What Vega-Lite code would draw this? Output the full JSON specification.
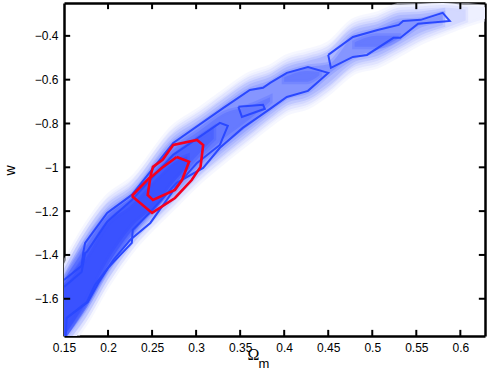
{
"$schema":"https://vega.github.io/schema/vega-lite/v6.json",
"width":421,"height":333,"autosize":"none",
"padding":{"left":64,"top":3,"right":6,"bottom":35},
"background":"white",
"config":{"view":{"stroke":null},"font":"Liberation Sans"},
"datasets":{
"density":[
{"level":"1","x":0.150,"hi":-1.441,"lo":-1.843},{"level":"1","x":0.174,"hi":-1.272,"lo":-1.715},{"level":"1","x":0.199,"hi":-1.135,"lo":-1.541},{"level":"1","x":0.227,"hi":-1.053,"lo":-1.382},{"level":"1","x":0.274,"hi":-0.816,"lo":-1.185},{"level":"1","x":0.305,"hi":-0.733,"lo":-1.062},{"level":"1","x":0.331,"hi":-0.656,"lo":-0.975},{"level":"1","x":0.361,"hi":-0.574,"lo":-0.879},{"level":"1","x":0.384,"hi":-0.542,"lo":-0.806},{"level":"1","x":0.403,"hi":-0.496,"lo":-0.752},{"level":"1","x":0.427,"hi":-0.469,"lo":-0.724},{"level":"1","x":0.450,"hi":-0.437,"lo":-0.662},{"level":"1","x":0.478,"hi":-0.332,"lo":-0.569},{"level":"1","x":0.506,"hi":-0.300,"lo":-0.537},{"level":"1","x":0.532,"hi":-0.259,"lo":-0.482},{"level":"1","x":0.555,"hi":-0.254,"lo":-0.430},{"level":"1","x":0.580,"hi":-0.250,"lo":-0.390},{"level":"1","x":0.606,"hi":-0.260,"lo":-0.350},{"level":"1","x":0.630,"hi":-0.270,"lo":-0.320},
{"level":"2","x":0.150,"hi":-1.464,"lo":-1.820},{"level":"2","x":0.174,"hi":-1.295,"lo":-1.692},{"level":"2","x":0.199,"hi":-1.158,"lo":-1.518},{"level":"2","x":0.227,"hi":-1.076,"lo":-1.359},{"level":"2","x":0.274,"hi":-0.839,"lo":-1.162},{"level":"2","x":0.305,"hi":-0.756,"lo":-1.039},{"level":"2","x":0.331,"hi":-0.679,"lo":-0.952},{"level":"2","x":0.361,"hi":-0.597,"lo":-0.856},{"level":"2","x":0.384,"hi":-0.565,"lo":-0.783},{"level":"2","x":0.403,"hi":-0.519,"lo":-0.729},{"level":"2","x":0.427,"hi":-0.492,"lo":-0.701},{"level":"2","x":0.450,"hi":-0.460,"lo":-0.639},{"level":"2","x":0.478,"hi":-0.355,"lo":-0.546},{"level":"2","x":0.506,"hi":-0.323,"lo":-0.514},{"level":"2","x":0.532,"hi":-0.282,"lo":-0.459},{"level":"2","x":0.555,"hi":-0.277,"lo":-0.410},{"level":"2","x":0.580,"hi":-0.270,"lo":-0.370},{"level":"2","x":0.606,"hi":-0.280,"lo":-0.330},
{"level":"3","x":0.150,"hi":-1.487,"lo":-1.800},{"level":"3","x":0.174,"hi":-1.318,"lo":-1.669},{"level":"3","x":0.199,"hi":-1.181,"lo":-1.495},{"level":"3","x":0.227,"hi":-1.099,"lo":-1.336},{"level":"3","x":0.274,"hi":-0.862,"lo":-1.139},{"level":"3","x":0.305,"hi":-0.779,"lo":-1.016},{"level":"3","x":0.331,"hi":-0.702,"lo":-0.929},{"level":"3","x":0.361,"hi":-0.620,"lo":-0.833},{"level":"3","x":0.384,"hi":-0.588,"lo":-0.760},{"level":"3","x":0.403,"hi":-0.542,"lo":-0.706},{"level":"3","x":0.427,"hi":-0.515,"lo":-0.678},{"level":"3","x":0.450,"hi":-0.483,"lo":-0.616},{"level":"3","x":0.478,"hi":-0.378,"lo":-0.523},{"level":"3","x":0.506,"hi":-0.346,"lo":-0.491},{"level":"3","x":0.532,"hi":-0.305,"lo":-0.436},{"level":"3","x":0.555,"hi":-0.300,"lo":-0.385},{"level":"3","x":0.580,"hi":-0.285,"lo":-0.350},
{"level":"4","x":0.150,"hi":-1.514,"lo":-1.770},{"level":"4","x":0.174,"hi":-1.345,"lo":-1.642},{"level":"4","x":0.199,"hi":-1.208,"lo":-1.468},{"level":"4","x":0.227,"hi":-1.126,"lo":-1.309},{"level":"4","x":0.274,"hi":-0.889,"lo":-1.112},{"level":"4","x":0.305,"hi":-0.806,"lo":-0.989},{"level":"4","x":0.331,"hi":-0.729,"lo":-0.902},{"level":"4","x":0.361,"hi":-0.647,"lo":-0.806},{"level":"4","x":0.384,"hi":-0.615,"lo":-0.733},{"level":"4","x":0.403,"hi":-0.569,"lo":-0.679},{"level":"4","x":0.427,"hi":-0.542,"lo":-0.651},{"level":"4","x":0.450,"hi":-0.530,"lo":-0.575},{"level":"4","x":0.478,"hi":-0.405,"lo":-0.496},{"level":"4","x":0.506,"hi":-0.373,"lo":-0.464},{"level":"4","x":0.532,"hi":-0.332,"lo":-0.409},{"level":"4","x":0.555,"hi":-0.327,"lo":-0.350},{"level":"4","x":0.580,"hi":-0.300,"lo":-0.330},
{"level":"5","x":0.150,"hi":-1.520,"lo":-1.770},{"level":"5","x":0.174,"hi":-1.360,"lo":-1.630},{"level":"5","x":0.199,"hi":-1.220,"lo":-1.460},{"level":"5","x":0.227,"hi":-1.135,"lo":-1.300},{"level":"5","x":0.274,"hi":-0.920,"lo":-1.090},{"level":"5","x":0.305,"hi":-0.830,"lo":-0.960},{"level":"5","x":0.331,"hi":-0.755,"lo":-0.870},{"level":"5","x":0.361,"hi":-0.720,"lo":-0.780},{"level":"5","x":0.384,"hi":-0.680,"lo":-0.700},
{"level":"6","x":0.150,"hi":-1.530,"lo":-1.770},{"level":"6","x":0.174,"hi":-1.390,"lo":-1.630},{"level":"6","x":0.199,"hi":-1.240,"lo":-1.450},{"level":"6","x":0.227,"hi":-1.150,"lo":-1.290},{"level":"6","x":0.274,"hi":-0.950,"lo":-1.070},{"level":"6","x":0.305,"hi":-0.860,"lo":-0.930},{"level":"6","x":0.320,"hi":-0.820,"lo":-0.870},
{"level":"7","x":0.150,"hi":-1.550,"lo":-1.770},{"level":"7","x":0.174,"hi":-1.420,"lo":-1.620},{"level":"7","x":0.199,"hi":-1.260,"lo":-1.430},{"level":"7","x":0.227,"hi":-1.170,"lo":-1.270},{"level":"7","x":0.255,"hi":-1.050,"lo":-1.170},{"level":"7","x":0.274,"hi":-0.980,"lo":-1.070},{"level":"7","x":0.290,"hi":-0.950,"lo":-1.000},
{"level":"8","x":0.480,"hi":-0.430,"lo":-0.450},{"level":"8","x":0.505,"hi":-0.400,"lo":-0.450},{"level":"8","x":0.530,"hi":-0.400,"lo":-0.410},
{"level":"9","x":0.400,"hi":-0.590,"lo":-0.610},{"level":"9","x":0.425,"hi":-0.560,"lo":-0.610},{"level":"9","x":0.440,"hi":-0.565,"lo":-0.580}
],
"contours":[
{"c":"A","k":"blue","s":1,"x":0.150,"y":-1.514},{"c":"A","k":"blue","s":2,"x":0.170,"y":-1.450},{"c":"A","k":"blue","s":3,"x":0.172,"y":-1.386},{"c":"A","k":"blue","s":4,"x":0.174,"y":-1.345},{"c":"A","k":"blue","s":5,"x":0.199,"y":-1.208},{"c":"A","k":"blue","s":6,"x":0.227,"y":-1.126},{"c":"A","k":"blue","s":7,"x":0.274,"y":-0.889},{"c":"A","k":"blue","s":8,"x":0.331,"y":-0.729},{"c":"A","k":"blue","s":9,"x":0.361,"y":-0.647},{"c":"A","k":"blue","s":10,"x":0.376,"y":-0.637},{"c":"A","k":"blue","s":11,"x":0.384,"y":-0.615},{"c":"A","k":"blue","s":12,"x":0.403,"y":-0.569},{"c":"A","k":"blue","s":13,"x":0.427,"y":-0.542},{"c":"A","k":"blue","s":14,"x":0.450,"y":-0.569},{"c":"A","k":"blue","s":15,"x":0.427,"y":-0.651},{"c":"A","k":"blue","s":16,"x":0.403,"y":-0.679},{"c":"A","k":"blue","s":17,"x":0.384,"y":-0.733},{"c":"A","k":"blue","s":18,"x":0.353,"y":-0.820},{"c":"A","k":"blue","s":19,"x":0.327,"y":-0.911},{"c":"A","k":"blue","s":20,"x":0.308,"y":-1.003},{"c":"A","k":"blue","s":21,"x":0.278,"y":-1.071},{"c":"A","k":"blue","s":22,"x":0.248,"y":-1.204},{"c":"A","k":"blue","s":23,"x":0.228,"y":-1.286},{"c":"A","k":"blue","s":24,"x":0.227,"y":-1.345},{"c":"A","k":"blue","s":25,"x":0.200,"y":-1.459},{"c":"A","k":"blue","s":26,"x":0.189,"y":-1.528},{"c":"A","k":"blue","s":27,"x":0.177,"y":-1.615},{"c":"A","k":"blue","s":28,"x":0.153,"y":-1.688},{"c":"A","k":"blue","s":29,"x":0.152,"y":-1.770},
{"c":"D","k":"blue","s":1,"x":0.150,"y":-1.546},{"c":"D","k":"blue","s":2,"x":0.170,"y":-1.478},{"c":"D","k":"blue","s":3,"x":0.174,"y":-1.391},{"c":"D","k":"blue","s":4,"x":0.176,"y":-1.386},{"c":"D","k":"blue","s":5,"x":0.199,"y":-1.249},{"c":"D","k":"blue","s":6,"x":0.227,"y":-1.149},{"c":"D","k":"blue","s":7,"x":0.274,"y":-0.943},{"c":"D","k":"blue","s":8,"x":0.327,"y":-0.797},{"c":"D","k":"blue","s":9,"x":0.336,"y":-0.811},{"c":"D","k":"blue","s":10,"x":0.327,"y":-0.898},{"c":"D","k":"blue","s":11,"x":0.301,"y":-0.980},{"c":"D","k":"blue","s":12,"x":0.278,"y":-1.085},{"c":"D","k":"blue","s":13,"x":0.248,"y":-1.254},{"c":"D","k":"blue","s":14,"x":0.225,"y":-1.332},{"c":"D","k":"blue","s":15,"x":0.206,"y":-1.423},{"c":"D","k":"blue","s":16,"x":0.200,"y":-1.459},{"c":"D","k":"blue","s":17,"x":0.185,"y":-1.537},{"c":"D","k":"blue","s":18,"x":0.176,"y":-1.615},{"c":"D","k":"blue","s":19,"x":0.153,"y":-1.688},
{"c":"C","k":"blue","s":1,"x":0.348,"y":-0.724},{"c":"C","k":"blue","s":2,"x":0.376,"y":-0.715},{"c":"C","k":"blue","s":3,"x":0.378,"y":-0.733},{"c":"C","k":"blue","s":4,"x":0.352,"y":-0.770},{"c":"C","k":"blue","s":5,"x":0.348,"y":-0.724},
{"c":"B","k":"blue","s":1,"x":0.450,"y":-0.487},{"c":"B","k":"blue","s":2,"x":0.478,"y":-0.405},{"c":"B","k":"blue","s":3,"x":0.506,"y":-0.373},{"c":"B","k":"blue","s":4,"x":0.530,"y":-0.350},{"c":"B","k":"blue","s":5,"x":0.535,"y":-0.332},{"c":"B","k":"blue","s":6,"x":0.555,"y":-0.327},{"c":"B","k":"blue","s":7,"x":0.580,"y":-0.295},{"c":"B","k":"blue","s":8,"x":0.588,"y":-0.332},{"c":"B","k":"blue","s":9,"x":0.552,"y":-0.345},{"c":"B","k":"blue","s":10,"x":0.532,"y":-0.409},{"c":"B","k":"blue","s":11,"x":0.524,"y":-0.409},{"c":"B","k":"blue","s":12,"x":0.494,"y":-0.487},{"c":"B","k":"blue","s":13,"x":0.478,"y":-0.496},{"c":"B","k":"blue","s":14,"x":0.453,"y":-0.546},{"c":"B","k":"blue","s":15,"x":0.450,"y":-0.487},
{"c":"R1","k":"red","s":1,"x":0.227,"y":-1.131},{"c":"R1","k":"red","s":2,"x":0.250,"y":-1.208},{"c":"R1","k":"red","s":3,"x":0.276,"y":-1.140},{"c":"R1","k":"red","s":4,"x":0.295,"y":-1.058},{"c":"R1","k":"red","s":5,"x":0.305,"y":-0.998},{"c":"R1","k":"red","s":6,"x":0.308,"y":-0.898},{"c":"R1","k":"red","s":7,"x":0.301,"y":-0.875},{"c":"R1","k":"red","s":8,"x":0.274,"y":-0.898},{"c":"R1","k":"red","s":9,"x":0.262,"y":-0.966},{"c":"R1","k":"red","s":10,"x":0.251,"y":-0.998},{"c":"R1","k":"red","s":11,"x":0.248,"y":-1.044},{"c":"R1","k":"red","s":12,"x":0.227,"y":-1.131},
{"c":"R2","k":"red","s":1,"x":0.278,"y":-0.953},{"c":"R2","k":"red","s":2,"x":0.292,"y":-0.975},{"c":"R2","k":"red","s":3,"x":0.284,"y":-1.058},{"c":"R2","k":"red","s":4,"x":0.276,"y":-1.103},{"c":"R2","k":"red","s":5,"x":0.251,"y":-1.149},{"c":"R2","k":"red","s":6,"x":0.245,"y":-1.126},{"c":"R2","k":"red","s":7,"x":0.248,"y":-1.048},{"c":"R2","k":"red","s":8,"x":0.261,"y":-1.003},{"c":"R2","k":"red","s":9,"x":0.278,"y":-0.953}
],
"xticks":[
{"x":0.2,"a":-1.77,"b":-1.742},{"x":0.25,"a":-1.77,"b":-1.742},{"x":0.3,"a":-1.77,"b":-1.742},{"x":0.35,"a":-1.77,"b":-1.742},{"x":0.4,"a":-1.77,"b":-1.742},{"x":0.45,"a":-1.77,"b":-1.742},{"x":0.5,"a":-1.77,"b":-1.742},{"x":0.55,"a":-1.77,"b":-1.742},{"x":0.6,"a":-1.77,"b":-1.742},
{"x":0.2,"a":-0.25,"b":-0.278},{"x":0.25,"a":-0.25,"b":-0.278},{"x":0.3,"a":-0.25,"b":-0.278},{"x":0.35,"a":-0.25,"b":-0.278},{"x":0.4,"a":-0.25,"b":-0.278},{"x":0.45,"a":-0.25,"b":-0.278},{"x":0.5,"a":-0.25,"b":-0.278},{"x":0.55,"a":-0.25,"b":-0.278},{"x":0.6,"a":-0.25,"b":-0.278}
],
"yticks":[
{"y":-0.4,"a":0.15,"b":0.157},{"y":-0.6,"a":0.15,"b":0.157},{"y":-0.8,"a":0.15,"b":0.157},{"y":-1,"a":0.15,"b":0.157},{"y":-1.2,"a":0.15,"b":0.157},{"y":-1.4,"a":0.15,"b":0.157},{"y":-1.6,"a":0.15,"b":0.157},
{"y":-0.4,"a":0.628,"b":0.621},{"y":-0.6,"a":0.628,"b":0.621},{"y":-0.8,"a":0.628,"b":0.621},{"y":-1,"a":0.628,"b":0.621},{"y":-1.2,"a":0.628,"b":0.621},{"y":-1.4,"a":0.628,"b":0.621},{"y":-1.6,"a":0.628,"b":0.621}
]
},
"layer":[
{"data":{"name":"density"},
 "mark":{"type":"area","clip":true,"interpolate":"monotone","strokeWidth":5,"strokeOpacity":0.5},
 "encoding":{
  "x":{"field":"x","type":"quantitative","scale":{"domain":[0.15,0.628],"nice":false,"zero":false},
   "axis":{"orient":"bottom","values":[0.15,0.2,0.25,0.3,0.35,0.4,0.45,0.5,0.55,0.6],"format":".2~f","grid":false,"labelFlush":false,"domain":true,"domainColor":"black","domainWidth":2.5,"ticks":false,"labelColor":"black","labelFontSize":12,"labelPadding":6,"labelFont":"Liberation Sans","title":"Ω","titleFont":"Liberation Serif","titleFontSize":16,"titleFontWeight":"normal","titleColor":"black","titleBaseline":"middle","titleX":189,"titleY":18}},
  "y":{"field":"hi","type":"quantitative","stack":null,"scale":{"domain":[-1.77,-0.25],"nice":false,"zero":false},
   "axis":{"orient":"left","values":[-0.4,-0.6,-0.8,-1,-1.2,-1.4,-1.6],"format":".1~f","grid":false,"labelFlush":false,"domain":true,"domainColor":"black","domainWidth":2.5,"ticks":false,"labelColor":"black","labelFontSize":12,"labelPadding":6,"labelFont":"Liberation Sans","title":"w","titleFont":"Liberation Sans","titleFontSize":14,"titleFontWeight":"normal","titleColor":"black","titleX":-47,"titleY":167}},
  "y2":{"field":"lo"},
  "color":{"field":"level","type":"nominal","legend":null,"scale":{"domain":["1","2","3","4","5","6","7","8","9"],"range":["#eef0ff","#d3d8ff","#aeb8ff","#8595ff","#667aff","#4c63ff","#3a52ff","#667aff","#667aff"]}},
  "stroke":{"field":"level","type":"nominal","legend":null,"scale":{"domain":["1","2","3","4","5","6","7","8","9"],"range":["#eef0ff","#d3d8ff","#aeb8ff","#8595ff","#667aff","#4c63ff","#3a52ff","#667aff","#667aff"]}}
 }},
{"data":{"name":"contours"},
 "mark":{"type":"line","clip":true,"strokeJoin":"miter"},
 "encoding":{
  "x":{"field":"x","type":"quantitative","axis":{"orient":"top","labels":false,"title":null,"grid":false,"domain":true,"domainColor":"black","domainWidth":2.5,"ticks":false}},
  "y":{"field":"y","type":"quantitative","axis":{"orient":"right","labels":false,"title":null,"grid":false,"domain":true,"domainColor":"black","domainWidth":2.5,"ticks":false}},
  "detail":{"field":"c","type":"nominal"},
  "order":{"field":"s","type":"quantitative"},
  "strokeWidth":{"field":"k","type":"ordinal","legend":null,"scale":{"domain":["blue","red"],"range":[2,2.6]}},
  "color":{"field":"k","type":"nominal","legend":null,"scale":{"domain":["blue","red"],"range":["#2a48ff","#f5001e"]}}
 }},
{"data":{"name":"xticks"},
 "mark":{"type":"rule","color":"#000000","strokeWidth":2,"opacity":1},
 "encoding":{
  "x":{"field":"x","type":"quantitative","axis":null},
  "y":{"field":"a","type":"quantitative","axis":null},
  "y2":{"field":"b"}
 }},
{"data":{"name":"yticks"},
 "mark":{"type":"rule","color":"#000000","strokeWidth":2,"opacity":1},
 "encoding":{
  "y":{"field":"y","type":"quantitative","axis":null},
  "x":{"field":"a","type":"quantitative","axis":null},
  "x2":{"field":"b"}
 }},
{"data":{"values":[{"x":0.377,"y":-1.897,"t":"m"}]},
 "mark":{"type":"text","font":"Liberation Sans","fontSize":13,"color":"black","align":"center","baseline":"middle"},
 "encoding":{
  "x":{"field":"x","type":"quantitative","axis":null},
  "y":{"field":"y","type":"quantitative","axis":null},
  "text":{"field":"t"}
 }}
],
"resolve":{"axis":{"x":"independent","y":"independent"},"scale":{"color":"independent"}}
}
